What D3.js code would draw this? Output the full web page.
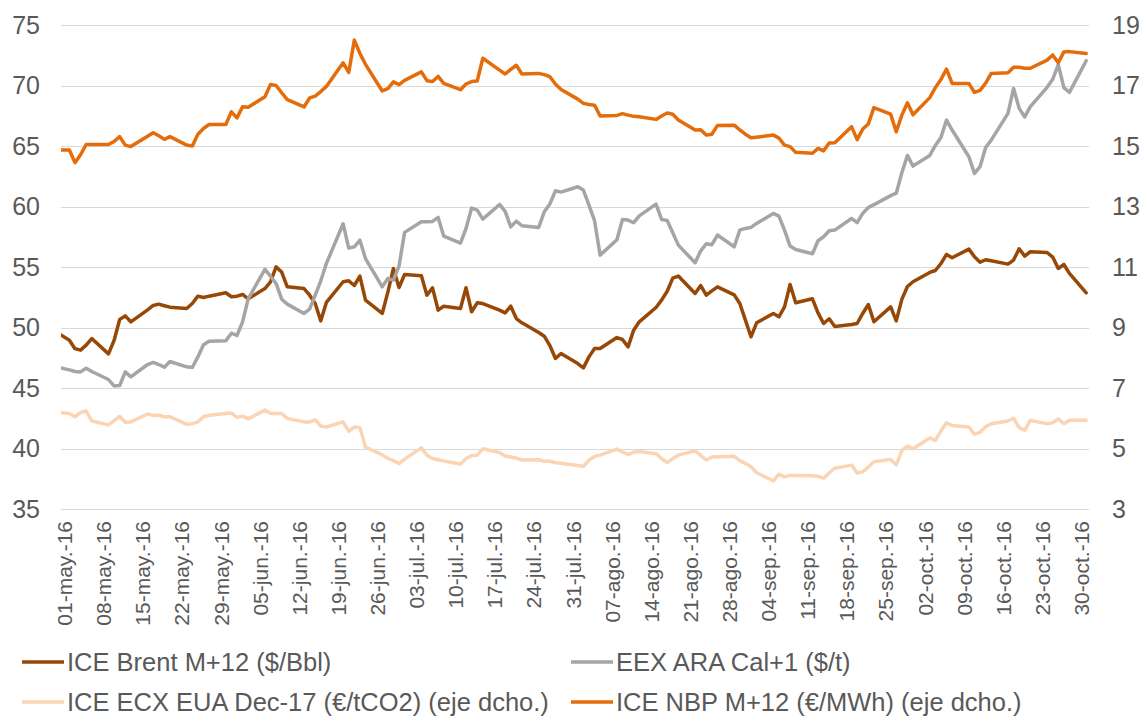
<!DOCTYPE html>
<html>
<head>
<meta charset="utf-8">
<script src="https://cdn.jsdelivr.net/npm/d3@7.9.0/dist/d3.min.js"></script>
<style>
  body { margin: 0; background: #fff; }
  svg { display: block; font-family: "Liberation Sans", Arial, sans-serif; }
</style>
</head>
<body>
<svg id="chart" width="1142" height="718"></svg>
<script>
// trading days: 29-abr-16 ... 31-oct-16 (weekdays only)
const dates = d3.utcDay.range(new Date(Date.UTC(2016, 3, 29)), new Date(Date.UTC(2016, 10, 1)))
  .filter(d => d.getUTCDay() % 6 !== 0);

// left axis ($)
const brent = [49.8,
  48.95, 48.25, 48.13, 48.54, 49.09,  47.82, 48.93, 50.66, 50.96, 50.47,
  51.46, 51.82, 51.93, 51.80, 51.68,  51.57, 51.98, 52.59, 52.48, 52.59,
  52.87, 52.54, 52.59, 52.73, 52.37,  53.22, 53.78, 55.01, 54.58, 53.36,
  53.22, 52.67, 51.98, 50.55, 52.07,  53.78, 53.86, 53.47, 54.25, 52.26,
  51.16, 52.92, 54.88, 53.31, 54.38,  54.27, 52.67, 53.28, 51.43, 51.76,
  51.57, 53.28, 51.30, 52.04, 51.98,  51.43, 51.21, 51.76, 50.74, 50.39,
  49.59, 49.28, 48.51, 47.44, 47.85,  47.02, 46.66, 47.57, 48.27, 48.27,
  49.17, 49.01, 48.40, 49.78, 50.47,  51.65, 52.26, 53.00, 54.08, 54.25,
  52.81, 53.47, 52.67, 53.03, 53.36,  52.70, 51.98, 50.61, 49.23, 50.39,
  51.16, 50.88, 51.71, 53.55, 52.04,  52.37, 51.21, 50.33, 50.72, 50.08,
  50.25, 50.33, 51.16, 51.90, 50.47,  51.70, 50.55, 52.32, 53.39, 53.78,
  54.55, 54.71, 55.29, 56.04, 55.76,  56.48, 55.84, 55.40, 55.60, 55.51,
  55.24, 55.57, 56.51, 55.90, 56.26,  56.20, 55.82, 54.88, 55.21, 54.47,
  52.87];

const eexAra = [46.8,
  46.50, 46.36, 46.33, 46.64, 46.36,  45.70, 45.17, 45.20, 46.33, 45.92,
  46.94, 47.11, 46.94, 46.72, 47.19,  46.75, 46.69, 47.57, 48.57, 48.87,
  48.90, 49.53, 49.34, 50.47, 52.37,  54.80, 54.24, 53.64, 52.34, 51.93,
  51.16, 51.52, 52.67, 53.86, 55.29,  58.57, 56.56, 56.67, 57.22, 55.70,
  53.36, 54.05, 53.91, 55.07, 57.86,  58.74, 58.74, 58.77, 59.10, 57.56,
  56.97, 58.19, 59.87, 59.70, 58.96,  60.17, 59.60, 58.32, 58.79, 58.41,
  58.27, 59.56, 60.20, 61.30, 61.19,  61.63, 61.36, 60.12, 58.82, 55.98,
  57.25, 58.93, 58.88, 58.66, 59.23,  60.20, 58.93, 58.85, 57.83, 56.81,
  55.35, 56.34, 56.92, 56.84, 57.64,  56.67, 58.05, 58.19, 58.27, 58.60,
  59.43, 59.21, 58.05, 56.73, 56.45,  56.09, 57.17, 57.50, 58.00, 58.05,
  59.01, 58.66, 59.43, 59.92, 60.15,  60.90, 61.10, 62.79, 64.22, 63.34,
  64.22, 65.05, 65.71, 67.14, 66.32,  64.11, 62.73, 63.29, 64.88, 65.49,
  67.70, 69.76, 68.11, 67.40, 68.25,  69.85, 70.51, 71.72, 69.82, 69.43,
  72.05];

// right axis (eje dcho.)
const ecxEua = [6.22,
  6.16, 6.05, 6.19, 6.24, 5.91,  5.78, 5.92, 6.06, 5.87, 5.88,
  6.14, 6.10, 6.10, 6.05, 6.05,  5.80, 5.82, 5.88, 6.05, 6.10,
  6.16, 6.17, 6.03, 6.07, 5.98,  6.27, 6.16, 6.16, 6.16, 5.99,
  5.88, 5.88, 5.95, 5.74, 5.71,  5.88, 5.57, 5.71, 5.69, 5.05,
  4.79, 4.67, 4.60, 4.50, 4.65,  5.02, 4.78, 4.67, 4.63, 4.59,
  4.49, 4.67, 4.77, 4.78, 4.99,  4.87, 4.75, 4.72, 4.68, 4.62,
  4.63, 4.58, 4.58, 4.53, 4.51,  4.44, 4.41, 4.61, 4.74, 4.78,
  4.98, 4.89, 4.80, 4.88, 4.90,  4.83, 4.67, 4.53, 4.67, 4.78,
  4.92, 4.77, 4.62, 4.72, 4.73,  4.74, 4.60, 4.51, 4.40, 4.20,
  3.93, 4.15, 4.06, 4.11, 4.11,  4.10, 4.08, 4.02, 4.19, 4.35,
  4.45, 4.19, 4.23, 4.39, 4.56,  4.64, 4.46, 4.93, 5.08, 4.99,
  5.35, 5.27, 5.58, 5.85, 5.76,  5.71, 5.47, 5.54, 5.72, 5.82,
  5.91, 6.00, 5.69, 5.60, 5.93,  5.82, 5.85, 5.98, 5.82, 5.93,
  5.93];

const nbp = [14.87,
  14.87, 14.45, 14.71, 15.05, 15.05,  15.05, 15.15, 15.31, 15.03, 14.98,
  15.32, 15.44, 15.34, 15.22, 15.31,  15.03, 15.00, 15.39, 15.58, 15.71,
  15.71, 16.13, 15.93, 16.30, 16.28,  16.63, 17.03, 17.00, 16.76, 16.53,
  16.29, 16.59, 16.65, 16.80, 16.97,  17.75, 17.43, 18.50, 18.06, 17.70,
  16.82, 16.90, 17.12, 17.03, 17.17,  17.45, 17.16, 17.13, 17.30, 17.07,
  16.86, 17.05, 17.13, 17.15, 17.90,  17.51, 17.38, 17.53, 17.67, 17.38,
  17.40, 17.36, 17.29, 17.05, 16.87,  16.55, 16.41, 16.37, 16.35, 15.99,
  16.01, 16.07, 16.02, 15.98, 15.97,  15.88, 15.99, 16.09, 16.05, 15.86,
  15.53, 15.54, 15.36, 15.39, 15.68,  15.69, 15.53, 15.39, 15.27, 15.29,
  15.36, 15.26, 15.03, 14.98, 14.79,  14.76, 14.92, 14.84, 15.10, 15.11,
  15.64, 15.21, 15.56, 15.73, 16.27,  16.05, 15.47, 16.02, 16.43, 16.03,
  16.60, 16.93, 17.20, 17.54, 17.07,  17.07, 16.77, 16.84, 17.08, 17.40,
  17.42, 17.60, 17.60, 17.57, 17.57,  17.84, 18.01, 17.75, 18.11, 18.12,
  18.06];

const leftTicks = [35, 40, 45, 50, 55, 60, 65, 70, 75];
const rightTicks = [3, 5, 7, 9, 11, 13, 15, 17, 19];
const monthNames = ['ene', 'feb', 'mar', 'abr', 'may', 'jun', 'jul', 'ago', 'sep', 'oct', 'nov', 'dic'];

const series = [
  { name: 'ICE Brent M+12 ($/Bbl)', values: brent, axis: 'left', color: '#974806' },
  { name: 'EEX ARA Cal+1 ($/t)', values: eexAra, axis: 'left', color: '#A5A5A5' },
  { name: 'ICE ECX EUA Dec-17 (€/tCO2) (eje dcho.)', values: ecxEua, axis: 'right', color: '#FBD4B4' },
  { name: 'ICE NBP M+12 (€/MWh) (eje dcho.)', values: nbp, axis: 'right', color: '#E46C0A' },
];

const svg = d3.select('#chart');
const plot = { left: 61, right: 1089, top: 25, bottom: 509 };

const x = d3.scaleUtc()
  .domain([new Date(Date.UTC(2016, 4, 1)), new Date(Date.UTC(2016, 10, 1))])
  .range([plot.left, plot.right]);
const yLeft = d3.scaleLinear().domain([35, 75]).range([plot.bottom, plot.top]);
const yRight = d3.scaleLinear().domain([3, 19]).range([plot.bottom, plot.top]);

// a day's point sits in the middle of its slot
const mid = d => d3.utcHour.offset(d, 12);

// gridlines
svg.append('g')
  .selectAll('line')
  .data(leftTicks)
  .join('line')
  .attr('x1', plot.left).attr('x2', plot.right)
  .attr('y1', d => Math.round(yLeft(d)) + 0.5)
  .attr('y2', d => Math.round(yLeft(d)) + 0.5)
  .attr('stroke', '#D9D9D9')
  .attr('stroke-width', 1);

// left axis labels
svg.append('g')
  .selectAll('text')
  .data(leftTicks)
  .join('text')
  .attr('x', 40)
  .attr('y', d => yLeft(d))
  .attr('dy', '0.35em')
  .attr('text-anchor', 'end')
  .attr('font-size', 25)
  .attr('fill', '#595959')
  .text(d => d);

// right axis labels
svg.append('g')
  .selectAll('text')
  .data(rightTicks)
  .join('text')
  .attr('x', 1112)
  .attr('y', d => yRight(d))
  .attr('dy', '0.35em')
  .attr('text-anchor', 'start')
  .attr('font-size', 25)
  .attr('fill', '#595959')
  .text(d => d);

// date labels every 7 days from 01-may
const labelDates = d3.range(0, 183, 7).map(k => d3.utcDay.offset(new Date(Date.UTC(2016, 4, 1)), k));
const fmt = d => String(d.getUTCDate()).padStart(2, '0') + '-' + monthNames[d.getUTCMonth()] + '.-16';

svg.append('g')
  .selectAll('text')
  .data(labelDates)
  .join('text')
  .attr('transform', d => `translate(${x(mid(d)) + 1},521) rotate(-90)`)
  .attr('dy', '0.35em')
  .attr('text-anchor', 'end')
  .attr('font-size', 21)
  .attr('fill', '#595959')
  .text(fmt);

// lines
svg.append('clipPath').attr('id', 'clip')
  .append('rect')
  .attr('x', plot.left).attr('y', 0)
  .attr('width', plot.right - plot.left).attr('height', 718);

const lines = svg.append('g').attr('clip-path', 'url(#clip)');
series.forEach(s => {
  const y = s.axis === 'left' ? yLeft : yRight;
  const line = d3.line()
    .x((v, i) => x(mid(dates[i])))
    .y(v => y(v));
  lines.append('path')
    .datum(s.values)
    .attr('d', line)
    .attr('fill', 'none')
    .attr('stroke', s.color)
    .attr('stroke-width', 3.5)
    .attr('stroke-linejoin', 'round')
    .attr('stroke-linecap', 'round');
});

// legend, two columns
const legend = svg.append('g');
const legendPos = [[22, 662], [571, 662], [22, 702], [571, 702]];
series.forEach((s, i) => {
  const [lx, ly] = legendPos[i];
  const g = legend.append('g').attr('transform', `translate(${lx},${ly})`);
  g.append('line')
    .attr('x1', 0).attr('x2', 42)
    .attr('y1', 0).attr('y2', 0)
    .attr('stroke', s.color)
    .attr('stroke-width', 3.5);
  g.append('text')
    .attr('x', 45)
    .attr('dy', '0.35em')
    .attr('font-size', 25.5)
    .attr('fill', '#595959')
    .text(s.name);
});
</script>
</body>
</html>
